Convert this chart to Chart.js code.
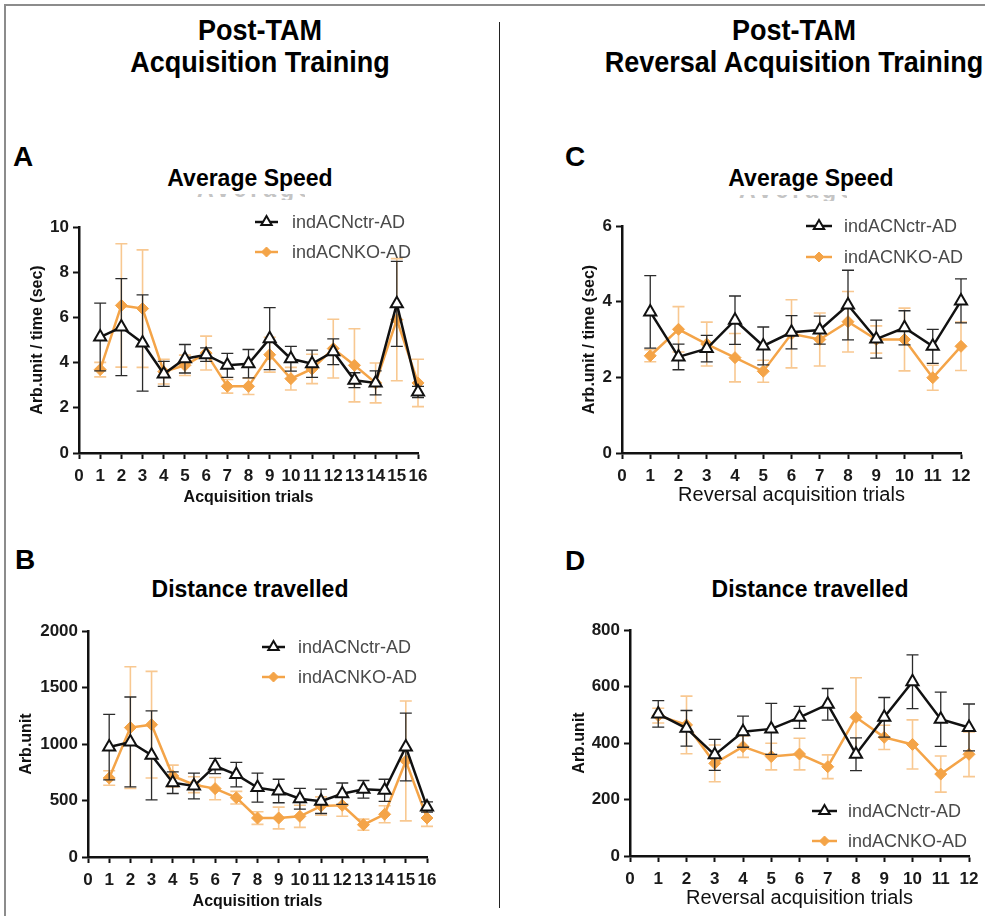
<!DOCTYPE html>
<html>
<head>
<meta charset="utf-8">
<title>Post-TAM locomotion</title>
<script src="https://cdn.jsdelivr.net/npm/chart.js@4.4.1/dist/chart.umd.min.js"></script>
<style>
  body { margin: 0; background: #fff; }
  #page { position: relative; width: 985px; height: 916px; overflow: hidden; background: #fff;
          font-family: "Liberation Sans", Arial, sans-serif; color: #000; }
  .frame { position: absolute; left: 4px; top: 4px; width: 1200px; height: 1200px;
           border-top: 2px solid #8c8c8c; border-left: 2px solid #8c8c8c; }
  .divider { position: absolute; left: 499px; top: 22px; width: 1px; height: 886px; background: #222; }
  .head { position: absolute; width: 600px; margin-left: -300px; font-family: "Liberation Sans", Arial, sans-serif;
          font-weight: bold; font-size: 30px; line-height: 32px; text-align: center;
          transform: scaleX(0.9); transform-origin: 50% 0; white-space: nowrap; }
  .letter { position: absolute; font-weight: bold; font-size: 28px; line-height: 28px; }
  .ptitle { position: absolute; font-weight: bold; font-size: 23px; transform: translate(-50%, -50%); white-space: nowrap; }
  .ghost { position: absolute; overflow: hidden; height: 6px; }
  .ghost span { position: absolute; left: 0; top: -18px; font-weight: bold; font-size: 23px; line-height: 26px;
                color: #c4c4c4; letter-spacing: 4px; white-space: nowrap; }
  canvas { position: absolute; }
</style>
</head>
<body>
<div id="page">
  <div class="frame"></div>
  <div class="divider"></div>

  <div class="head" style="left:260px; top:14px;">Post-TAM<br>Acquisition Training</div>
  <div class="head" style="left:794px; top:14px;">Post-TAM<br>Reversal Acquisition Training</div>

  <div class="letter" style="left:13px; top:143px;">A</div>
  <div class="letter" style="left:565px; top:143px;">C</div>
  <div class="letter" style="left:15px; top:546px;">B</div>
  <div class="letter" style="left:565px; top:547px;">D</div>

  <div class="ptitle" style="left:250px; top:178px;">Average Speed</div>
  <div class="ghost" style="left:197px; top:194px; width:108px;"><span>Average</span></div>
  <div class="ptitle" style="left:811px; top:178px;">Average Speed</div>
  <div class="ghost" style="left:739px; top:195px; width:108px;"><span>Average</span></div>
  <div class="ptitle" style="left:250px; top:589px;">Distance travelled</div>
  <div class="ptitle" style="left:810px; top:589px;">Distance travelled</div>
</div>

<script>
// ---- data: mean and SEM per trial ----
const seriesNames = ['indACNctr-AD', 'indACNKO-AD'];

const acqTrials = [1, 2, 3, 4, 5, 6, 7, 8, 9, 10, 11, 12, 13, 14, 15, 16];
const revTrials = [1, 2, 3, 4, 5, 6, 7, 8, 9, 10, 11, 12];

// A: average speed, acquisition
const speedAcqCtr    = [5.13, 5.57, 4.87, 3.50, 4.17, 4.35, 3.88, 3.95, 5.06, 4.17, 3.95, 4.48, 3.22, 3.10, 6.60, 2.70];
const speedAcqCtrSem = [1.50, 2.15, 2.13, 0.55, 0.63, 0.30, 0.53, 0.63, 1.37, 0.55, 0.60, 0.57, 0.33, 0.53, 1.88, 0.25];
const speedAcqKo     = [3.69, 6.53, 6.39, 3.60, 3.88, 4.42, 2.95, 2.95, 4.35, 3.29, 3.72, 4.62, 3.88, 3.10, 5.90, 3.10];
const speedAcqKoSem  = [0.32, 2.73, 2.60, 0.55, 0.45, 0.75, 0.30, 0.36, 0.77, 0.50, 0.65, 1.30, 1.62, 0.88, 2.70, 1.05];

// B: distance travelled, acquisition
const distAcqCtr     = [973, 1018, 900, 658, 628, 805, 729, 614, 584, 516, 493, 560, 599, 590, 973, 442];
const distAcqCtrSem  = [290, 398, 394, 96, 114, 67, 108, 128, 104, 92, 108, 95, 78, 98, 300, 45];
const distAcqKo      = [699, 1145, 1171, 717, 640, 605, 525, 345, 345, 360, 451, 457, 286, 378, 850, 345];
const distAcqKoSem   = [64, 538, 472, 96, 70, 98, 56, 56, 96, 98, 81, 96, 49, 75, 530, 74];

// C: average speed, reversal acquisition
const speedRevCtr    = [3.73, 2.54, 2.76, 3.51, 2.83, 3.19, 3.25, 3.91, 3.01, 3.31, 2.82, 4.02];
const speedRevCtrSem = [0.96, 0.34, 0.35, 0.64, 0.50, 0.44, 0.37, 0.92, 0.50, 0.45, 0.45, 0.58];
const speedRevKo     = [2.57, 3.27, 2.88, 2.52, 2.16, 3.15, 3.00, 3.47, 3.00, 3.00, 1.99, 2.82];
const speedRevKoSem  = [0.16, 0.60, 0.58, 0.64, 0.29, 0.90, 0.70, 0.80, 0.36, 0.83, 0.33, 0.64];

// D: distance travelled, reversal acquisition
const distRevCtr     = [503, 452, 358, 440, 450, 491, 537, 360, 491, 617, 484, 455];
const distRevCtrSem  = [47, 63, 55, 55, 90, 39, 56, 58, 70, 95, 96, 83];
const distRevKo      = [497, 464, 328, 387, 352, 361, 316, 491, 420, 395, 290, 360];
const distRevKoSem   = [26, 102, 65, 38, 47, 56, 42, 140, 43, 87, 64, 79];

// ---- styling ----
const FONT = '"Liberation Sans", Arial, sans-serif';
Chart.defaults.font.family = FONT;
const INK = '#111';
const ORANGE = '#F4A448';
const ORANGE_ERR = 'rgba(244,164,72,0.6)';

// vertical SEM bars drawn under each series' line and markers
const errorBarPlugin = {
  id: 'errorBars',
  beforeDatasetDraw(chart, args) {
    const ds = chart.data.datasets[args.index];
    if (!ds.sem) return;
    const xs = chart.scales.x, ys = chart.scales.y, ctx = chart.ctx;
    ctx.save();
    ctx.strokeStyle = ds.errColor;
    ctx.lineWidth = ds.errWidth;
    ds.data.forEach((p, i) => {
      const e = ds.sem[i];
      const x = xs.getPixelForValue(p.x);
      const yt = ys.getPixelForValue(p.y + e);
      const yb = ys.getPixelForValue(p.y - e);
      const cap = 6;
      ctx.beginPath();
      ctx.moveTo(x, yt); ctx.lineTo(x, yb);
      ctx.moveTo(x - cap, yt); ctx.lineTo(x + cap, yt);
      ctx.moveTo(x - cap, yb); ctx.lineTo(x + cap, yb);
      ctx.stroke();
    });
    ctx.restore();
  }
};

// key with a short line and the series marker, placed inside the plot
const keyPlugin = {
  id: 'seriesKey',
  afterDraw(chart, args, opts) {
    const ctx = chart.ctx;
    chart.data.datasets.forEach((ds, i) => {
      const y = opts.rows[i];
      ctx.save();
      ctx.strokeStyle = ds.borderColor;
      ctx.lineWidth = 2.5;
      ctx.beginPath();
      ctx.moveTo(opts.segX0, y); ctx.lineTo(opts.segX1, y);
      ctx.stroke();
      ctx.fillStyle = ds.pointBackgroundColor;
      ctx.strokeStyle = ds.pointBorderColor;
      ctx.lineWidth = ds.pointBorderWidth;
      Chart.helpers.drawPoint(ctx, {
        pointStyle: ds.pointStyle, radius: ds.pointRadius - 1, rotation: 0, borderWidth: ds.pointBorderWidth
      }, (opts.segX0 + opts.segX1) / 2, y);
      ctx.fillStyle = '#4a4a4a';
      ctx.font = '18px ' + FONT;
      ctx.textBaseline = 'middle';
      ctx.textAlign = 'left';
      ctx.fillText(ds.label, opts.textX, y + 1);
      ctx.restore();
    });
  }
};

function makePanel(p) {
  const left = Math.round(p.yTitleX - 10);
  const top = p.plotTop - 30;
  const width = p.plotRight + 25 - left;
  const height = p.plotBottom + 54 + 4 - top;
  const yW = p.plotLeft - left;

  const canvas = document.createElement('canvas');
  canvas.width = width; canvas.height = height;
  canvas.style.left = left + 'px'; canvas.style.top = top + 'px';
  canvas.style.width = width + 'px'; canvas.style.height = height + 'px';
  document.getElementById('page').appendChild(canvas);

  const pts = (vals) => vals.map((v, i) => ({ x: p.trials[i], y: v }));
  const tickFont = { size: 17, weight: 'bold', family: FONT };
  const plain = (v) => String(v);

  new Chart(canvas, {
    type: 'line',
    data: {
      datasets: [
        {
          label: seriesNames[0], data: pts(p.ctr), sem: p.ctrSem,
          borderColor: INK, borderWidth: 2.5, tension: 0, clip: false,
          pointStyle: 'triangle', pointRadius: 7, pointBorderWidth: 2,
          pointBackgroundColor: '#fff', pointBorderColor: INK,
          errColor: '#2b2b2b', errWidth: 1.3
        },
        {
          label: seriesNames[1], data: pts(p.ko), sem: p.koSem,
          borderColor: ORANGE, borderWidth: 2.5, tension: 0, clip: false,
          pointStyle: 'rectRot', pointRadius: 6, pointBorderWidth: 1,
          pointBackgroundColor: ORANGE, pointBorderColor: ORANGE,
          errColor: ORANGE_ERR, errWidth: 1.6
        }
      ]
    },
    options: {
      responsive: false, animation: false, devicePixelRatio: 1,
      layout: { padding: { left: 0, top: 30, right: 25, bottom: 4 } },
      plugins: {
        legend: { display: false }, tooltip: { enabled: false },
        seriesKey: {
          segX0: p.key.segX0 - left, segX1: p.key.segX1 - left, textX: p.key.textX - left,
          rows: p.key.rows.map(r => r - top)
        }
      },
      scales: {
        x: {
          type: 'linear', min: 0, max: p.trials.length,
          afterFit(s) { s.height = 54; },
          ticks: { stepSize: 1, autoSkip: false, maxRotation: 0, padding: 7, font: tickFont, color: '#1a1a1a', callback: plain },
          grid: { display: true, drawOnChartArea: false, drawTicks: true, tickLength: 6, tickWidth: 2, tickColor: INK },
          border: { display: true, color: INK, width: 2.5 },
          title: { display: true, text: p.xTitle, padding: 0, color: '#111', font: p.xTitleFont }
        },
        y: {
          min: 0, max: p.yMax,
          afterFit(s) { s.width = yW; },
          ticks: { stepSize: p.yStep, padding: 4, font: tickFont, color: '#1a1a1a', callback: plain },
          grid: { display: true, drawOnChartArea: false, drawTicks: true, tickLength: 6, tickWidth: 2, tickColor: INK },
          border: { display: true, color: INK, width: 2.5 },
          title: { display: true, text: p.yTitle, padding: 0, color: '#111', font: { size: 16, weight: 'bold', family: FONT } }
        }
      }
    },
    plugins: [errorBarPlugin, keyPlugin]
  });
}

const boldTitle = { size: 16, weight: 'bold', family: FONT };
const plainTitle = { size: 20, weight: 'normal', family: FONT };

makePanel({
  trials: acqTrials, ctr: speedAcqCtr, ctrSem: speedAcqCtrSem, ko: speedAcqKo, koSem: speedAcqKoSem,
  plotLeft: 79, plotTop: 227, plotRight: 418, plotBottom: 453, yMax: 10, yStep: 2,
  yTitleX: 37.5, yTitle: 'Arb.unit / time (sec)', xTitle: 'Acquisition trials', xTitleFont: boldTitle,
  key: { segX0: 255, segX1: 278, textX: 292, rows: [222, 252] }
});
makePanel({
  trials: acqTrials, ctr: distAcqCtr, ctrSem: distAcqCtrSem, ko: distAcqKo, koSem: distAcqKoSem,
  plotLeft: 88, plotTop: 631, plotRight: 427, plotBottom: 857, yMax: 2000, yStep: 500,
  yTitleX: 27, yTitle: 'Arb.unit', xTitle: 'Acquisition trials', xTitleFont: boldTitle,
  key: { segX0: 262, segX1: 285, textX: 298, rows: [647, 677] }
});
makePanel({
  trials: revTrials, ctr: speedRevCtr, ctrSem: speedRevCtrSem, ko: speedRevKo, koSem: speedRevKoSem,
  plotLeft: 622, plotTop: 226, plotRight: 961, plotBottom: 453, yMax: 6, yStep: 2,
  yTitleX: 590, yTitle: 'Arb.unit / time (sec)', xTitle: 'Reversal acquisition trials', xTitleFont: plainTitle,
  key: { segX0: 806, segX1: 832, textX: 844, rows: [226, 257] }
});
makePanel({
  trials: revTrials, ctr: distRevCtr, ctrSem: distRevCtrSem, ko: distRevKo, koSem: distRevKoSem,
  plotLeft: 630, plotTop: 630, plotRight: 969, plotBottom: 856, yMax: 800, yStep: 200,
  yTitleX: 580, yTitle: 'Arb.unit', xTitle: 'Reversal acquisition trials', xTitleFont: plainTitle,
  key: { segX0: 812, segX1: 837, textX: 848, rows: [811, 841] }
});
</script>
</body>
</html>
